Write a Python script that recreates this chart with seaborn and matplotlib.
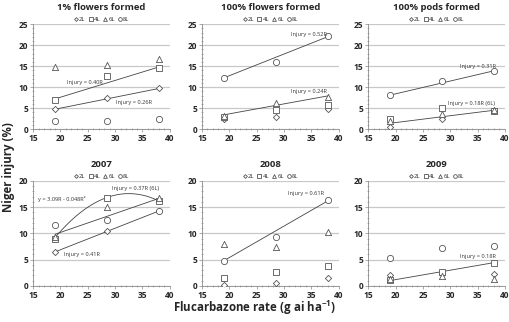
import matplotlib
matplotlib.use("Agg")
import matplotlib.pyplot as plt
import numpy as np
import pandas as pd
import seaborn as sns
from matplotlib.ticker import MultipleLocator

sns.set_theme(style="white")
plt.rcParams["font.family"] = ["Open Sans", "DejaVu Sans"]
plt.rcParams["mathtext.default"] = "regular"

# ---------------------------------------------------------------------------
# data: injury (%) at three flucarbazone rates
# ---------------------------------------------------------------------------
RATES = [19, 28.5, 38]
LAYERS = ["2L", "4L", "6L", "8L"]

FLOWERS_1PCT = {"2L": [4.8, 7.5, 9.8], "4L": [7.0, 12.7, 14.5],
                "6L": [14.8, 15.2, 16.6], "8L": [1.9, 1.9, 2.3]}
FLOWERS_100PCT = {"2L": [2.4, 3.0, 4.7], "4L": [2.8, 4.6, 5.7],
                  "6L": [3.1, 6.2, 7.6], "8L": [12.2, 16.0, 22.1]}
PODS_100PCT = {"2L": [0.6, 2.5, 4.2], "4L": [2.4, 5.1, 4.4],
               "6L": [2.0, 3.7, 4.6], "8L": [8.1, 11.4, 13.9]}
YEAR_2007 = {"2L": [6.4, 10.5, 14.3], "4L": [8.9, 16.8, 16.2],
             "6L": [9.4, 15.0, 16.7], "8L": [11.7, 12.6, 14.3]}
YEAR_2008 = {"2L": [0.2, 0.5, 1.6], "4L": [1.6, 2.7, 3.8],
             "6L": [7.9, 7.5, 10.2], "8L": [4.8, 9.3, 16.3]}
YEAR_2009 = {"2L": [2.0, 2.3, 2.3], "4L": [1.1, 2.6, 4.4],
             "6L": [1.3, 1.9, 1.4], "8L": [5.3, 7.2, 7.6]}

TITLES = ["1% flowers formed", "100% flowers formed", "100% pods formed",
          "2007", "2008", "2009"]
PANELS = [FLOWERS_1PCT, FLOWERS_100PCT, PODS_100PCT, YEAR_2007, YEAR_2008, YEAR_2009]

# fitted lines as drawn: (panel index, intercept, slope, quadratic term, label)
FITS = [
    (0, -0.4, 0.40, 0.0, "Injury = 0.40R"),
    (0, -0.2, 0.26, 0.0, "Injury = 0.26R"),
    (1, 2.4, 0.516, 0.0, "Injury = 0.52R"),
    (1, -1.1, 0.237, 0.0, "Injury = 0.24R"),
    (2, 2.3, 0.305, 0.0, "Injury = 0.31R"),
    (2, -1.7, 0.163, 0.0, "Injury = 0.18R (6L)"),
    (3, -1.3, 0.41, 0.0, "Injury = 0.41R"),
    (3, 3.0, 0.36, 0.0, "Injury = 0.37R (6L)"),
    (3, -31.0, 2.99, -0.046, "y = 3.09R - 0.048R²"),
    (4, -6.6, 0.60, 0.0, "Injury = 0.61R"),
    (5, -2.4, 0.18, 0.0, "Injury = 0.18R"),
]
# where each fit label sits (data coords), same order as FITS
LABEL_POS = [(24.5, 11.2), (33.5, 6.4), (34.5, 22.6), (34.5, 9.0), (35.0, 14.8),
             (33.8, 6.1), (24.0, 6.0), (33.8, 18.5), (20.3, 16.6), (34.0, 17.6),
             (35.0, 5.6)]

MARKERS = {"2L": "D", "4L": "s", "6L": "^", "8L": "o"}
MSIZE = {"2L": 10, "4L": 18, "6L": 20, "8L": 20}
EDGE = "#555555"

fig = plt.figure(figsize=(5.10, 3.22), dpi=100)
lefts = [0.065, 0.396, 0.722]
bottoms = [0.599, 0.112]
axes = [fig.add_axes([l, b, 0.268, 0.326]) for b in bottoms for l in lefts]

for i, (ax, panel, title) in enumerate(zip(axes, PANELS, TITLES)):
    df = pd.DataFrame([(r, lay, v) for lay in LAYERS for r, v in zip(RATES, panel[lay])],
                      columns=["rate", "layer", "injury"])
    for lay in LAYERS:
        sub = df[df["layer"] == lay]
        ax.scatter(sub["rate"], sub["injury"], marker=MARKERS[lay], s=MSIZE[lay],
                   facecolors="white", edgecolors=EDGE, linewidths=0.6, zorder=3,
                   label=lay)

    xs = np.linspace(min(RATES), max(RATES), 60)
    for (k, a, b, c, lab), (lx, ly) in zip(FITS, LABEL_POS):
        if k != i:
            continue
        line = pd.DataFrame({"rate": xs, "fit": a + b * xs + c * xs ** 2})
        sns.lineplot(data=line, x="rate", y="fit", color="#444444", linewidth=0.6,
                     ax=ax, zorder=2)
        ax.text(lx, ly, lab, fontsize=4.1, color="#333333", ha="center", va="center",
                zorder=4)

    top = 25 if i < 3 else 20
    ax.set_xlim(15, 40)
    ax.set_ylim(0, top)
    ax.xaxis.set_major_locator(MultipleLocator(5))
    ax.yaxis.set_major_locator(MultipleLocator(5))
    ax.xaxis.set_minor_locator(MultipleLocator(1))
    ax.yaxis.set_minor_locator(MultipleLocator(1))
    ax.grid(axis="y", which="major", color="#c8c8c8", linewidth=0.9)
    ax.set_axisbelow(True)
    for side in ["top", "right"]:
        ax.spines[side].set_visible(False)
    for side in ["left", "bottom"]:
        ax.spines[side].set_color("#888888")
        ax.spines[side].set_linewidth(0.6)
    ax.tick_params(which="major", direction="out", length=2, width=0.5,
                   color="#888888", labelsize=6, pad=1.5)
    ax.tick_params(which="minor", direction="inout", length=2, width=0.4,
                   color="#888888")
    ax.tick_params(axis="both", which="both", bottom=True, left=True)
    for t in ax.get_xticklabels() + ax.get_yticklabels():
        t.set_fontweight("bold")
    ax.set_xlabel("")
    ax.set_ylabel("")
    ax.set_title(title, fontsize=6.8, fontweight="bold", pad=10)
    ax.legend(loc="lower center", bbox_to_anchor=(0.5, 0.99), ncol=4,
              frameon=False, fontsize=4.2, handletextpad=0.1, handlelength=0.8,
              columnspacing=0.5, borderaxespad=0.2, markerscale=0.6)

fig.text(0.016, 0.48, "Niger injury (%)", rotation=90, ha="center", va="center",
         fontsize=8.3, fontweight="bold")
fig.text(0.5, 0.043, "Flucarbazone rate (g ai ha$^{-1}$)", ha="center", va="center",
         fontsize=8.3, fontweight="bold")

fig.savefig("out.png", dpi=100)
